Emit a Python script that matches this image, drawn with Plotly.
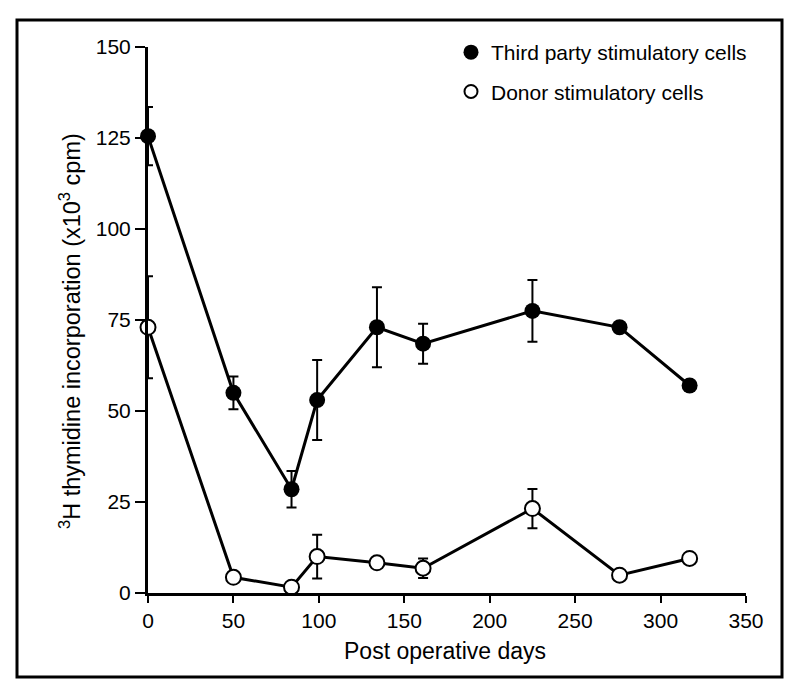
import plotly.graph_objects as go

# Data
days = [0, 50, 84, 99, 134, 161, 225, 276, 317]
third_party = [125.5, 55, 28.5, 53, 73, 68.5, 77.5, 73, 57]
third_party_err = [8, 4.5, 5, 11, 11, 5.5, 8.5, 0, 0]
donor = [73, 4.3, 1.6, 10, 8.3, 6.8, 23.2, 4.9, 9.5]
donor_err = [14, 0, 0, 6, 0, 2.7, 5.4, 0, 0]

x_ticks = [0, 50, 100, 150, 200, 250, 300, 350]
y_ticks = [0, 25, 50, 75, 100, 125, 150]

x_title = "Post operative days"
y_title = "<sup>3</sup>H thymidine incorporation (x10<sup>3</sup> cpm)"

FONT = "Liberation Sans, Arial, sans-serif"

# the page has an 8px body margin; work in page pixels and convert
OFF = 8
FW, FH = 800 - OFF, 697 - OFF
L, R, T, B = 148, 746, 47, 593   # plot area in page pixels
W, H = R - L, B - T


def px_x(p):
    return (p - L) / W


def px_y(p):
    return (B - p) / H


fig = go.Figure()

fig.add_trace(go.Scatter(
    x=days, y=third_party, mode="lines+markers",
    line=dict(color="black", width=3),
    marker=dict(symbol="circle", size=16, color="black"),
    error_y=dict(type="data", array=third_party_err, visible=True,
                 color="black", thickness=2, width=5),
    showlegend=False, cliponaxis=False,
))
fig.add_trace(go.Scatter(
    x=days, y=donor, mode="lines+markers",
    line=dict(color="black", width=3),
    marker=dict(symbol="circle", size=15, color="white",
                line=dict(color="black", width=2)),
    error_y=dict(type="data", array=donor_err, visible=True,
                 color="black", thickness=2, width=5),
    showlegend=False, cliponaxis=False,
))

# legend-only entries (markers only)
fig.add_trace(go.Scatter(
    x=[None], y=[None], mode="markers", name="Third party stimulatory cells",
    marker=dict(symbol="circle", size=15, color="black"),
    legendgroup="a",
))
fig.add_trace(go.Scatter(
    x=[None], y=[None], mode="markers", name="Donor stimulatory cells",
    marker=dict(symbol="circle", size=13, color="white",
                line=dict(color="black", width=2)),
    legendgroup="b",
))

fig.add_shape(type="rect", xref="paper", yref="paper",
              x0=px_x(17), x1=px_x(782), y0=px_y(677), y1=px_y(20),
              line=dict(color="black", width=3), fillcolor="rgba(0,0,0,0)")

fig.add_annotation(text=x_title, xref="paper", yref="paper",
                   x=px_x(445), y=px_y(651), xanchor="center", yanchor="middle",
                   showarrow=False, font=dict(size=23))
fig.add_annotation(text=y_title, xref="paper", yref="paper",
                   x=px_x(70), y=px_y(331), xanchor="center", yanchor="middle",
                   textangle=-90, showarrow=False, font=dict(size=23.5))

fig.update_layout(
    width=FW, height=FH,
    margin=dict(l=L - OFF, r=FW - (R - OFF), t=T - OFF, b=FH - (B - OFF)),
    paper_bgcolor="white", plot_bgcolor="white",
    font=dict(family=FONT, color="black", size=21),
    legend=dict(x=px_x(451), y=px_y(32), xanchor="left", yanchor="top",
                bgcolor="rgba(0,0,0,0)", font=dict(size=21),
                traceorder="grouped", tracegroupgap=9),
    xaxis=dict(
        range=[0, 350], tickvals=x_ticks, showgrid=False, zeroline=False,
        showline=True, linecolor="black", linewidth=3,
        ticks="outside", ticklen=7, tickwidth=2, tickcolor="black",
        tickfont=dict(size=21),
    ),
    yaxis=dict(
        range=[0, 150], tickvals=y_ticks, showgrid=False, zeroline=False,
        showline=True, linecolor="black", linewidth=3,
        ticks="outside", ticklen=10, tickwidth=2, tickcolor="black",
        tickfont=dict(size=21),
    ),
)

fig.write_html("out.html")
